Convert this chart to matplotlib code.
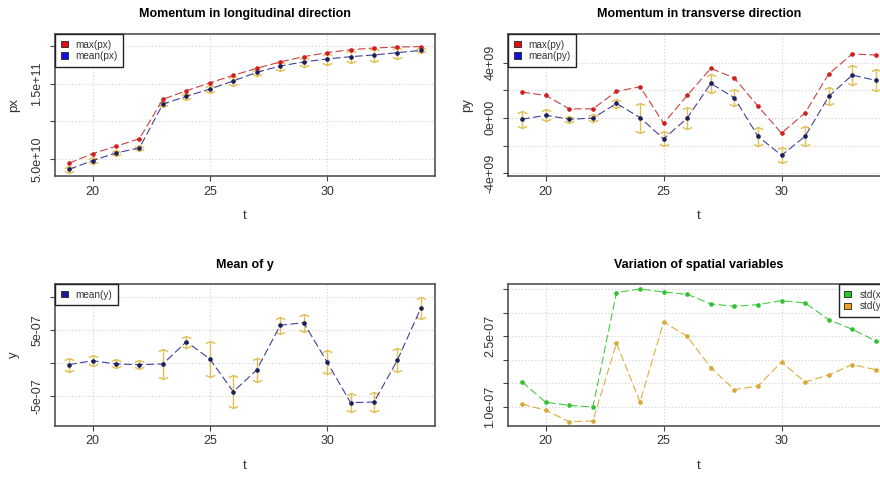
import matplotlib
matplotlib.use("Agg")
import matplotlib.pyplot as plt
from matplotlib.path import Path
from matplotlib.patches import Patch
import numpy as np

plt.rcParams['font.family'] = ['Liberation Sans', 'DejaVu Sans']

# time steps
t = np.arange(19, 35)

# momentum, longitudinal
px_max = [4.48e10, 5.75e10, 6.72e10, 7.73e10, 1.292e11, 1.406e11, 1.508e11, 1.609e11,
          1.701e11, 1.785e11, 1.855e11, 1.908e11, 1.947e11, 1.969e11, 1.982e11, 1.987e11]
px_mean = [3.68e10, 4.83e10, 5.84e10, 6.5e10, 1.23e11, 1.332e11, 1.428e11, 1.534e11,
           1.648e11, 1.732e11, 1.785e11, 1.824e11, 1.855e11, 1.877e11, 1.908e11, 1.938e11]
px_sd = [4.5e9, 4.5e9, 4.5e9, 4.5e9, 4.5e9, 4.5e9, 5e9, 6e9,
         5e9, 6e9, 7e9, 8e9, 8.5e9, 9e9, 8e9, 4e9]

# momentum, transverse
py_max = [1.86e9, 1.62e9, 0.65e9, 0.65e9, 1.91e9, 2.25e9, -0.39e9, 1.62e9,
          3.58e9, 2.88e9, 0.85e9, -1.11e9, 0.36e9, 3.17e9, 4.62e9, 4.54e9]
py_mean = [-0.1e9, 0.19e9, -0.1e9, -0.02e9, 1.04e9, 0.02e9, -1.52e9, -0.02e9,
           2.49e9, 1.45e9, -1.33e9, -2.71e9, -1.33e9, 1.55e9, 3.09e9, 2.71e9]
py_sd = [0.6e9, 0.42e9, 0.27e9, 0.27e9, 0.31e9, 1.08e9, 0.54e9, 0.77e9,
         0.71e9, 0.6e9, 0.7e9, 0.57e9, 0.72e9, 0.65e9, 0.71e9, 0.8e9]

# mean transverse position
y_mean = [-0.3e-7, 0.3e-7, -0.2e-7, -0.3e-7, -0.2e-7, 3.18e-7, 0.56e-7, -4.39e-7,
          -1.11e-7, 5.66e-7, 6.06e-7, 0.1e-7, -6.06e-7, -5.96e-7, 0.4e-7, 8.28e-7]
y_sd = [1.04e-7, 0.88e-7, 0.68e-7, 0.66e-7, 2.27e-7, 0.93e-7, 2.68e-7, 2.45e-7,
        1.79e-7, 1.26e-7, 1.36e-7, 1.82e-7, 1.44e-7, 1.59e-7, 1.84e-7, 1.67e-7]

# spread of the bunch
std_x = [1.531e-7, 1.099e-7, 1.035e-7, 1.0e-7, 3.429e-7, 3.507e-7, 3.443e-7, 3.394e-7,
         3.188e-7, 3.139e-7, 3.174e-7, 3.259e-7, 3.21e-7, 2.855e-7, 2.65e-7, 2.402e-7]
std_y = [1.064e-7, 0.929e-7, 0.688e-7, 0.703e-7, 2.353e-7, 1.106e-7, 2.806e-7, 2.501e-7,
         1.836e-7, 1.368e-7, 1.446e-7, 1.956e-7, 1.531e-7, 1.68e-7, 1.9e-7, 1.793e-7]

W, H = 880, 478
fig = plt.figure(figsize=(W / 100, H / 100), dpi=100)

GOLD = '#E0BE52'
FRAME = '#444444'
TXT = '#333333'
LDASH = (7, 3)

# arrowhead caps for the error bars
cap_up = Path([(-5, -2.2), (0, 0), (5, -2.2)], [Path.MOVETO, Path.LINETO, Path.LINETO])
cap_dn = Path([(-5, 2.2), (0, 0), (5, 2.2)], [Path.MOVETO, Path.LINETO, Path.LINETO])


def panel(x0, y0, x1, y1):
    return fig.add_axes([x0 / W, 1 - y1 / H, (x1 - x0) / W, (y1 - y0) / H])


def setup(ax, title, ylab, ylim, yticks, ylabels):
    ax.set_xlim(18.4, 34.6)
    ax.set_ylim(*ylim)
    ax.set_xticks([20, 25, 30])
    ax.set_yticks(yticks)
    ax.set_yticklabels(ylabels, rotation=90, va='center')
    ax.grid(True, color='#D0D0D0', linestyle=(0, (1, 2)), linewidth=0.8)
    ax.set_axisbelow(True)
    for s in ax.spines.values():
        s.set_color(FRAME)
        s.set_linewidth(1.1)
    ax.tick_params(direction='out', length=3.5, width=0.8, color=FRAME,
                   labelsize=9, labelcolor=TXT)
    ax.tick_params(axis='x', pad=3.5)
    ax.tick_params(axis='y', pad=5)
    ax.set_title(title, fontsize=9, fontweight='bold', pad=12)
    ax.set_xlabel('t', fontsize=9.5, color=TXT, labelpad=9)
    ax.set_ylabel(ylab, fontsize=9.5, color=TXT, labelpad=8)


def errbars(ax, x, m, s):
    m = np.asarray(m)
    s = np.asarray(s)
    ax.vlines(x, m - s, m + s, color=GOLD, lw=1, zorder=2)
    ax.plot(x, m + s, ls='none', marker=cap_up, ms=6.8, mec=GOLD, mfc='none', mew=1, zorder=2)
    ax.plot(x, m - s, ls='none', marker=cap_dn, ms=6.8, mec=GOLD, mfc='none', mew=1, zorder=2)


def series(ax, y, lc, pc):
    ax.plot(t, y, color=lc, lw=0.8, dashes=LDASH, zorder=3)
    ax.plot(t, y, ls='none', marker='o', ms=2.3, mfc=pc, mec=pc, zorder=4)


def legend(ax, labels, colors, loc):
    handles = [Patch(facecolor=c, edgecolor='#222222', linewidth=0.6) for c in colors]
    leg = ax.legend(handles, labels, loc=loc, borderaxespad=0, fontsize=7.2,
                    frameon=True, fancybox=False, framealpha=1, edgecolor='#222222',
                    handlelength=0.7, handleheight=0.6, handletextpad=0.8,
                    labelspacing=0.15, borderpad=0.55)
    leg.get_frame().set_linewidth(1.0)
    for txt in leg.get_texts():
        txt.set_color(TXT)


# longitudinal momentum
ax1 = panel(55, 34, 435, 176)
setup(ax1, 'Momentum in longitudinal direction', 'px', (2.8e10, 2.154e11),
      [5e10, 1e11, 1.5e11, 2e11], ['5.0e+10', '', '1.5e+11', ''])
errbars(ax1, t, px_mean, px_sd)
series(ax1, px_max, '#CC4040', '#D01E1E')
series(ax1, px_mean, '#40409E', '#1E1E5A')
legend(ax1, ['max(px)', 'mean(px)'], ['#E01010', '#1010E0'], 'upper left')

# transverse momentum
ax2 = panel(508, 34, 890, 176)
setup(ax2, 'Momentum in transverse direction', 'py', (-4.2e9, 6.06e9),
      [-4e9, -2e9, 0, 2e9, 4e9], ['-4e+09', '', '0e+00', '', '4e+09'])
errbars(ax2, t, py_mean, py_sd)
series(ax2, py_max, '#CC4040', '#D01E1E')
series(ax2, py_mean, '#40409E', '#1E1E5A')
legend(ax2, ['max(py)', 'mean(py)'], ['#E01010', '#1010E0'], 'upper left')

# mean of y
ax3 = panel(55, 284.3, 435, 425.7)
setup(ax3, 'Mean of y', 'y', (-9.55e-7, 1.187e-6),
      [-5e-7, 0, 5e-7, 1e-6], ['-5e-07', '', '5e-07', ''])
errbars(ax3, t, y_mean, y_sd)
series(ax3, y_mean, '#40409E', '#1E1E5A')
legend(ax3, ['mean(y)'], ['#1A1A9A'], 'upper left')

# spatial spread
ax4 = panel(508, 284.3, 890, 425.7)
setup(ax4, 'Variation of spatial variables', '', (0.603e-7, 3.606e-7),
      [1e-7, 1.5e-7, 2e-7, 2.5e-7, 3e-7, 3.5e-7],
      ['1.0e-07', '', '', '2.5e-07', '', ''])
series(ax4, std_x, '#44CC44', '#30C030')
series(ax4, std_y, '#DDAE3C', '#D8A838')
legend(ax4, ['std(x)', 'std(y)'], ['#22CC22', '#F0A020'], 'upper right')

fig.savefig('out.png', dpi=100)
